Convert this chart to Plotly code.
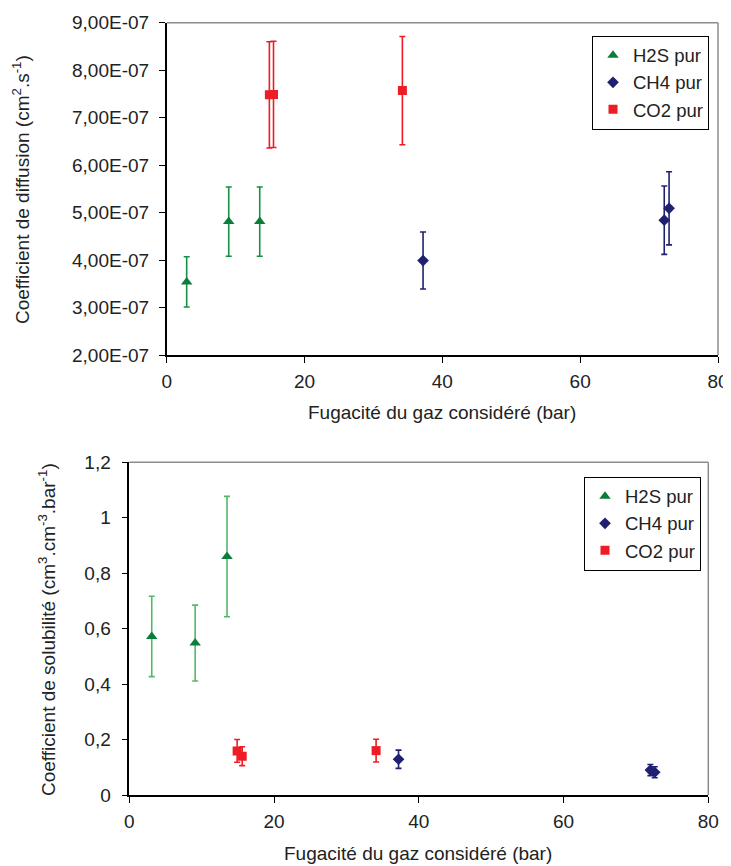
import plotly.graph_objects as go

# page body has an 8px default margin; figure sized to fit the window
OFF = 8
W, H = 731 - OFF, 866 - OFF

# ---- Top chart data (diffusion coefficient, cm2/s) ----
h2s_x_top = [2.9, 9.0, 13.5]
h2s_y_top = [3.54e-7, 4.81e-7, 4.81e-7]
h2s_e_top = [0.53e-7, 0.73e-7, 0.73e-7]

ch4_x_top = [37.2, 72.2, 72.9]
ch4_y_top = [3.99e-7, 4.84e-7, 5.09e-7]
ch4_e_top = [0.60e-7, 0.72e-7, 0.77e-7]

co2_x_top = [14.9, 15.5, 34.2]
co2_y_top = [7.48e-7, 7.49e-7, 7.57e-7]
co2_e_top = [1.12e-7, 1.12e-7, 1.14e-7]

top_tickvals = [2e-7, 3e-7, 4e-7, 5e-7, 6e-7, 7e-7, 8e-7, 9e-7]
top_ticktext = ["2,00E-07", "3,00E-07", "4,00E-07", "5,00E-07",
                "6,00E-07", "7,00E-07", "8,00E-07", "9,00E-07"]

# ---- Bottom chart data (solubility coefficient) ----
h2s_x_bot = [3.1, 9.1, 13.5]
h2s_y_bot = [0.572, 0.548, 0.860]
h2s_e_bot = [0.145, 0.137, 0.217]

ch4_x_bot = [37.2, 72.0, 72.6]
ch4_y_bot = [0.129, 0.090, 0.082]
ch4_e_bot = [0.033, 0.020, 0.020]

co2_x_bot = [14.9, 15.6, 34.1]
co2_y_bot = [0.159, 0.140, 0.160]
co2_e_bot = [0.041, 0.034, 0.041]

bot_tickvals = [0, 0.2, 0.4, 0.6, 0.8, 1.0, 1.2]
bot_ticktext = ["0", "0,2", "0,4", "0,6", "0,8", "1", "1,2"]

x_tickvals = [0, 20, 40, 60, 80]

GREEN_M = "#0b7d3b"
GREEN_E_TOP = "#149144"
GREEN_E_BOT = "#55b867"
NAVY = "#1f2170"
RED = "#ee1c25"
FONT = "Liberation Sans, Arial, sans-serif"
TXT = "#222222"
FS = 19

fig = go.Figure()

def add(x, y, e, name, color, ecolor, symbol, size, xa, ya, legend):
    fig.add_trace(go.Scatter(
        x=x, y=y, mode="markers", name=name,
        marker=dict(color=color, symbol=symbol, size=size),
        error_y=dict(type="data", array=e, visible=True, color=ecolor,
                     thickness=1.6, width=3),
        xaxis=xa, yaxis=ya, legend=legend,
    ))

add(h2s_x_top, h2s_y_top, h2s_e_top, "H2S pur", GREEN_M, GREEN_E_TOP, "triangle-up", 10, "x", "y", "legend")
add(ch4_x_top, ch4_y_top, ch4_e_top, "CH4 pur", NAVY, NAVY, "diamond", 9, "x", "y", "legend")
add(co2_x_top, co2_y_top, co2_e_top, "CO2 pur", RED, RED, "square", 9, "x", "y", "legend")

add(h2s_x_bot, h2s_y_bot, h2s_e_bot, "H2S pur", GREEN_M, GREEN_E_BOT, "triangle-up", 10, "x2", "y2", "legend2")
add(ch4_x_bot, ch4_y_bot, ch4_e_bot, "CH4 pur", NAVY, NAVY, "diamond", 9, "x2", "y2", "legend2")
add(co2_x_bot, co2_y_bot, co2_e_bot, "CO2 pur", RED, RED, "square", 9, "x2", "y2", "legend2")

def px_x(p):
    return (p - OFF) / W

def px_y(p):
    return 1 - (p - OFF) / H

axis_common = dict(
    showgrid=False, zeroline=False, showline=True, linecolor="black",
    linewidth=1.5, ticks="outside", ticklen=6, tickcolor="black", tickwidth=1.2,
    automargin=False,
    tickfont=dict(family=FONT, size=FS, color=TXT),
)

legend_common = dict(
    xanchor="left", yanchor="top", bordercolor="black", borderwidth=1,
    bgcolor="white", font=dict(family=FONT, size=18.5, color=TXT),
    itemwidth=30, tracegroupgap=0,
)

fig.update_layout(
    width=W, height=H,
    margin=dict(l=0, r=0, t=0, b=0, autoexpand=False),
    paper_bgcolor="white", plot_bgcolor="white",
    font=dict(family=FONT, size=FS, color=TXT),
    xaxis=dict(domain=[px_x(166.7), px_x(718)], range=[0, 80],
               tickvals=x_tickvals, anchor="y", ticklabelstandoff=2, **axis_common),
    yaxis=dict(domain=[px_y(355), px_y(22.7)], range=[2e-7, 9e-7],
               tickvals=top_tickvals, ticktext=top_ticktext, anchor="x",
               ticklabelstandoff=6, **axis_common),
    xaxis2=dict(domain=[px_x(129.3), px_x(708.3)], range=[0, 80],
                tickvals=x_tickvals, anchor="y2", ticklabelstandoff=2, **axis_common),
    yaxis2=dict(domain=[px_y(795), px_y(462.3)], range=[0, 1.2],
                tickvals=bot_tickvals, ticktext=bot_ticktext, anchor="x2",
                ticklabelstandoff=7, **axis_common),
    legend=dict(x=px_x(592), y=px_y(35.7), **legend_common),
    legend2=dict(x=px_x(584), y=px_y(476.7), **legend_common),
)

# gray top/right frame lines
for xr, yr in (("x", "y"), ("x2", "y2")):
    fig.add_shape(type="line", xref=f"{xr} domain", yref=f"{yr} domain",
                  x0=0, x1=1, y0=1, y1=1, line=dict(color="#8c8c8c", width=1.5))
    fig.add_shape(type="line", xref=f"{xr} domain", yref=f"{yr} domain",
                  x0=1, x1=1, y0=0, y1=1, line=dict(color="#8c8c8c", width=1.5))

def title(text, x, y, angle=0):
    fig.add_annotation(text=text, xref="paper", yref="paper",
                       x=px_x(x), y=px_y(y), xanchor="center", yanchor="middle",
                       textangle=angle, showarrow=False,
                       font=dict(family=FONT, size=FS, color=TXT))

title("Fugacité du gaz considéré (bar)", 442, 412)
title("Coefficient de diffusion (cm<sup>2</sup>.s<sup>-1</sup>)", 21, 190, -90)
title("Fugacité du gaz considéré (bar)", 418, 853)
title("Coefficient de solubilité (cm<sup>3</sup>.cm<sup>-3</sup>.bar<sup>-1</sup>)", 47, 630, -90)

fig.write_html("out.html")
